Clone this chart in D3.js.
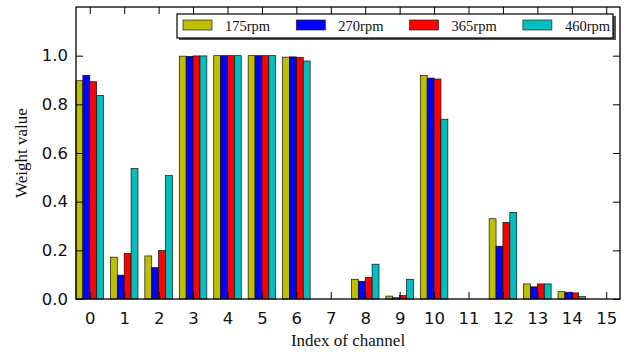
<!DOCTYPE html>
<html lang="en">
<head>
<meta charset="UTF-8">
<title>Weight value by channel</title>
<script src="https://d3js.org/d3.v7.min.js"></script>
<style>
  body { margin: 0; background: white; }
  .tick text { font-family: "DejaVu Sans", sans-serif; }
</style>
</head>
<body>
<script>
// data
const channels = d3.range(16);
const seriesNames = ["175rpm", "270rpm", "365rpm", "460rpm"];
const seriesColors = ["#bfbf00", "#0000ff", "#ff0000", "#00bfbf"];
const rpm175 = [0.897, 0.172, 0.177, 0.998, 1.0, 1.0, 0.994, 0, 0.081, 0.012, 0.919, 0, 0.330, 0.062, 0.030, 0];
const rpm270 = [0.919, 0.098, 0.129, 0.997, 1.0, 1.0, 0.995, 0, 0.073, 0.005, 0.908, 0, 0.217, 0.050, 0.028, 0];
const rpm365 = [0.893, 0.187, 0.199, 0.999, 1.0, 1.0, 0.993, 0, 0.088, 0.014, 0.904, 0, 0.315, 0.062, 0.025, 0];
const rpm460 = [0.836, 0.537, 0.507, 0.999, 1.0, 1.0, 0.978, 0, 0.143, 0.081, 0.739, 0, 0.356, 0.062, 0.010, 0];
const yTicks = [0, 0.2, 0.4, 0.6, 0.8, 1.0];

const series = [rpm175, rpm270, rpm365, rpm460];

const width = 632, height = 354;
const margin = {left: 76, right: 12, top: 7, bottom: 55};
const barW = 0.2;

const svg = d3.select("body").append("svg")
    .attr("width", width)
    .attr("height", height);

const x = d3.scaleLinear().domain([-0.4, 15.4]).range([margin.left, width - margin.right]);
const y = d3.scaleLinear().domain([0, 1.2]).range([height - margin.bottom, margin.top]);

// bars
series.forEach(function(vals, s) {
    svg.append("g").selectAll("rect")
        .data(vals)
        .enter().append("rect")
        .attr("x", (d, i) => x(channels[i] - 0.4 + s * barW))
        .attr("width", x(barW) - x(0))
        .attr("y", d => y(d))
        .attr("height", d => y(0) - y(d))
        .attr("fill", seriesColors[s])
        .attr("stroke", "#111")
        .attr("stroke-width", 0.7);
});

// axes with inward ticks
const tickLen = 7;
const xAxis = svg.append("g")
    .attr("transform", `translate(0,${y(0)})`)
    .call(d3.axisBottom(x).tickValues(channels).tickSize(-tickLen).tickPadding(13).tickFormat(d3.format("d")));
const xTop = svg.append("g")
    .attr("transform", `translate(0,${y(1.2)})`)
    .call(d3.axisTop(x).tickValues(channels).tickSize(-tickLen).tickFormat(""));
const yAxis = svg.append("g")
    .attr("transform", `translate(${x(-0.4)},0)`)
    .call(d3.axisLeft(y).tickValues(yTicks).tickSize(-tickLen).tickPadding(8).tickFormat(d3.format(".1f")));
const yRight = svg.append("g")
    .attr("transform", `translate(${x(15.4)},0)`)
    .call(d3.axisRight(y).tickValues(yTicks).tickSize(-tickLen).tickFormat(""));

[xAxis, xTop, yAxis, yRight].forEach(function(g) {
    g.select(".domain").remove();
    g.selectAll(".tick line").attr("stroke", "#000").attr("stroke-width", 1);
    g.selectAll(".tick text").attr("font-size", 16.5).attr("fill", "#111");
});

// frame
svg.append("rect")
    .attr("x", x(-0.4))
    .attr("y", y(1.2))
    .attr("width", x(15.4) - x(-0.4))
    .attr("height", y(0) - y(1.2))
    .attr("fill", "none")
    .attr("stroke", "#000")
    .attr("stroke-width", 1.3);

// axis labels
svg.append("text")
    .attr("x", (x(-0.4) + x(15.4)) / 2)
    .attr("y", 346)
    .attr("text-anchor", "middle")
    .attr("font-family", "Liberation Serif, serif")
    .attr("font-size", 17)
    .attr("fill", "#111")
    .text("Index of channel");

svg.append("text")
    .attr("transform", `translate(27,${(y(0) + y(1.2)) / 2}) rotate(-90)`)
    .attr("text-anchor", "middle")
    .attr("font-family", "Liberation Serif, serif")
    .attr("font-size", 17)
    .attr("fill", "#111")
    .text("Weight value");

// legend
const lg = svg.append("g").attr("transform", "translate(177,14)");
lg.append("rect")
    .attr("x", 2).attr("y", 2)
    .attr("width", 437).attr("height", 24)
    .attr("fill", "#555");
lg.append("rect")
    .attr("width", 436).attr("height", 24)
    .attr("fill", "white")
    .attr("stroke", "#000")
    .attr("stroke-width", 1.2);
const entry = lg.selectAll(".entry")
    .data(seriesNames)
    .enter().append("g")
    .attr("transform", (d, i) => `translate(${6 + i * 113.3},0)`);
entry.append("rect")
    .attr("x", 0).attr("y", 6)
    .attr("width", 29).attr("height", 10)
    .attr("fill", (d, i) => seriesColors[i])
    .attr("stroke", "#222")
    .attr("stroke-width", 0.7);
entry.append("text")
    .attr("x", 42).attr("y", 16.5)
    .attr("font-family", "Liberation Serif, serif")
    .attr("font-size", 14.5)
    .attr("fill", "#111")
    .text(d => d);
</script>
</body>
</html>
